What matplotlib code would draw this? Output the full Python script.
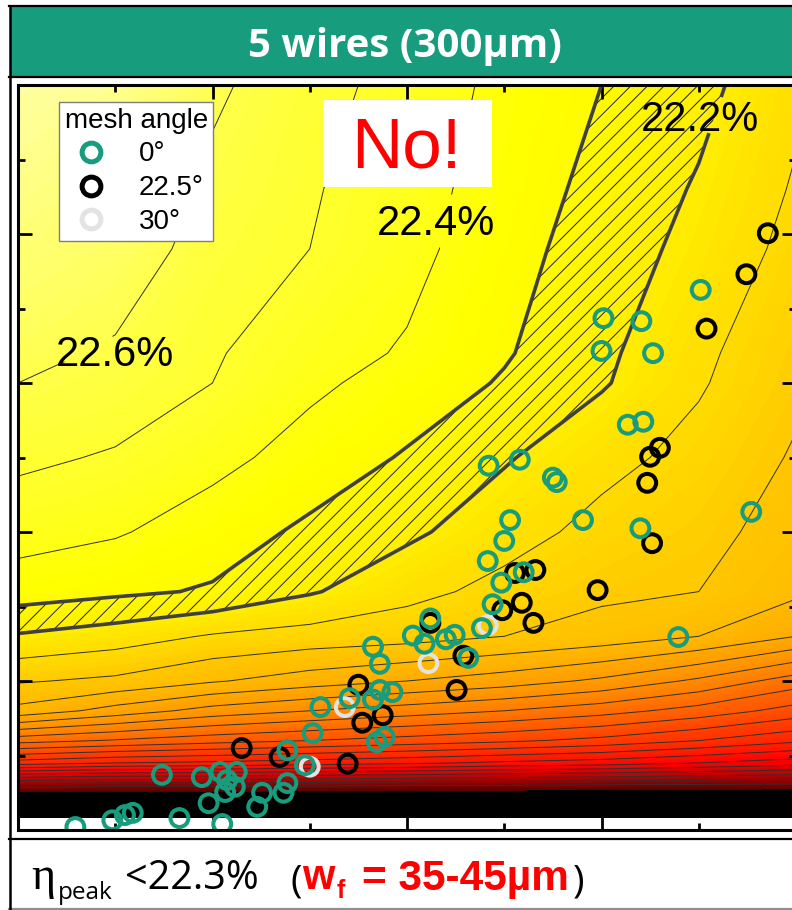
import matplotlib
matplotlib.use('Agg')
import numpy as np
import matplotlib.pyplot as plt
from matplotlib.colors import LinearSegmentedColormap
from matplotlib.lines import Line2D
from matplotlib.patches import Rectangle

plt.rcParams['font.family'] = ['Liberation Sans', 'DejaVu Sans']
plt.rcParams['hatch.color'] = '#202020'
plt.rcParams['hatch.linewidth'] = 0.7

# Simulated peak efficiency (%) on a coarse grid: rows follow grid_y, columns grid_x
grid_x = [0, 1, 2, 3, 4, 5, 6, 7, 8]
grid_y = [0.17, 0.6, 0.9, 1.2, 1.6, 2.0, 2.6, 3.2, 4.0, 5.0, 6.0, 6.4, 7.8, 8.6, 10.0]
eta = [
    [19.60, 19.60, 19.60, 19.60, 19.60, 19.60, 19.60, 19.60, 19.60],
    [20.35, 20.33, 20.33, 20.32, 20.31, 20.30, 20.29, 20.28, 20.27],
    [21.05, 21.00, 20.98, 20.95, 20.92, 20.88, 20.85, 20.80, 20.75],
    [21.44, 21.39, 21.34, 21.30, 21.26, 21.22, 21.17, 21.10, 21.02],
    [21.87, 21.76, 21.66, 21.60, 21.55, 21.50, 21.44, 21.36, 21.26],
    [22.01, 21.98, 21.91, 21.85, 21.80, 21.75, 21.68, 21.58, 21.45],
    [22.19, 22.15, 22.09, 22.06, 22.04, 22.00, 21.96, 21.90, 21.80],
    [22.35, 22.32, 22.29, 22.21, 22.13, 22.07, 22.02, 22.00, 21.92],
    [22.44, 22.41, 22.35, 22.28, 22.22, 22.14, 22.07, 22.03, 21.96],
    [22.52, 22.49, 22.43, 22.36, 22.29, 22.21, 22.13, 22.07, 21.99],
    [22.60, 22.56, 22.50, 22.42, 22.36, 22.29, 22.21, 22.11, 22.02],
    [22.63, 22.585, 22.51, 22.44, 22.39, 22.31, 22.22, 22.12, 22.03],
    [22.72, 22.67, 22.55, 22.50, 22.43, 22.34, 22.25, 22.17, 22.07],
    [22.77, 22.72, 22.575, 22.51, 22.44, 22.355, 22.27, 22.19, 22.09],
    [22.85, 22.80, 22.62, 22.53, 22.47, 22.37, 22.30, 22.23, 22.12],
]
band_levels = [22.2, 22.3]
label_levels = [22.4, 22.6]

# Measured cells, one list pair per mesh angle
x_0 = [0.59, 0.97, 1.10, 1.18, 1.66, 2.10, 1.48, 1.89, 2.08, 2.15, 1.96, 2.13,
       2.25, 2.23, 2.51, 2.46, 2.73, 2.77, 2.77, 2.95, 3.03, 3.11, 3.41, 3.65,
       3.72, 3.72, 3.85, 3.65, 3.77, 3.69, 4.06, 4.18, 4.24, 4.40, 4.49, 4.77,
       4.63, 4.88, 4.97, 4.83, 5.00, 5.06, 5.20, 4.84, 5.16, 5.50, 5.54, 5.81,
       6.40, 6.27, 6.43, 7.54, 6.79, 6.02, 6.41, 6.00, 6.53, 7.02]
y_0 = [0.04, 0.13, 0.20, 0.23, 0.16, 0.08, 0.74, 0.71, 0.78, 0.67, 0.36, 0.51,
       0.78, 0.58, 0.50, 0.31, 0.50, 0.63, 1.07, 0.87, 1.30, 1.65, 1.77, 2.46,
       2.23, 1.88, 1.85, 1.75, 1.25, 1.18, 2.61, 2.50, 2.84, 2.56, 2.62, 2.71,
       2.31, 3.03, 3.32, 3.61, 3.88, 4.16, 3.46, 4.89, 4.97, 4.73, 4.67, 4.16,
       4.05, 5.44, 5.48, 4.27, 2.59, 6.87, 6.83, 6.43, 6.40, 7.25]
x_225 = [2.30, 2.69, 3.39, 3.50, 3.75, 3.54, 4.24, 4.58, 4.51, 5.32, 5.11, 5.18,
         4.98, 5.30, 5.96, 6.52, 6.47, 6.50, 6.60, 7.08, 7.49, 7.71]
y_225 = [1.10, 0.98, 0.89, 1.95, 1.54, 1.44, 2.78, 2.34, 1.88, 3.49, 3.45, 3.05,
         2.95, 2.78, 3.22, 3.85, 4.66, 5.01, 5.13, 6.73, 7.46, 8.01]
x_30 = [3.36, 3.00, 4.22, 4.83]
y_30 = [1.65, 0.85, 2.24, 2.75]

angle_labels = ['0°', '22.5°', '30°']
angle_colors = ['#179c7d', '#000000', '#e3e3e3']

W, H = 792, 910
fig = plt.figure(figsize=(W / 100, H / 100), dpi=100)


def fx(px):
    return px / W


def fy(py):
    return 1 - py / H


# Table frame: header band, plot cell, caption cell
fig.add_artist(Rectangle((fx(11), fy(76)), fx(800) - fx(11), fy(7) - fy(76),
                         transform=fig.transFigure, facecolor='#179c7d',
                         edgecolor='none'))
for yy, col in [(6, 'black'), (77, 'black'), (839, 'black'), (909, '#909090')]:
    fig.add_artist(Line2D([fx(9), fx(800)], [fy(yy), fy(yy)],
                          transform=fig.transFigure, color=col, lw=1.6))
fig.add_artist(Line2D([fx(9.5), fx(9.5)], [fy(6), fy(909)],
                      transform=fig.transFigure, color='black', lw=1.8))
fig.text(fx(405), fy(46), '5 wires (300µm)', ha='center', va='center',
         color='white', fontsize=29, family='Open Sans', weight='bold')

ax = fig.add_axes([fx(18), fy(830), (796 - 18) / W, (830 - 85) / H])
ax.set_xlim(0, 8)
ax.set_ylim(0, 10)

X, Y = np.meshgrid(grid_x, grid_y)
Z = np.array(eta)

anchors = [(20.2, '#5a0000'), (20.5, '#b80000'), (20.8, '#ff0000'),
           (21.2, '#ff4000'), (21.6, '#ff8c00'), (22.0, '#ffc800'),
           (22.2, '#ffee00'), (22.35, '#ffff00'), (22.6, '#ffff4a'),
           (22.9, '#ffffb0')]
lo, hi = anchors[0][0], anchors[-1][0]
cmap = LinearSegmentedColormap.from_list(
    'eff', [((v - lo) / (hi - lo), c) for v, c in anchors])
cmap.set_under('black')

fill = ax.contourf(X, Y, Z, levels=np.linspace(lo, hi, 136), cmap=cmap,
                   extend='min', zorder=0)
fill.set_edgecolor('face')
fill.set_linewidth(0.3)

thin_levels = [lv for lv in np.round(np.arange(20.3, 22.65, 0.1), 1)
               if not np.isclose(lv, band_levels + label_levels).any()]
ax.contour(X, Y, Z, levels=thin_levels, colors='#303030', linewidths=0.7,
           zorder=1)
named = ax.contour(X, Y, Z, levels=label_levels, colors='#303030',
                   linewidths=0.7, zorder=1)
ax.contourf(X, Y, Z, levels=band_levels, colors='none', hatches=['//'],
            zorder=1)
thick = ax.contour(X, Y, Z, levels=band_levels, colors='#404040',
                   linewidths=2.6, zorder=2)


def pct(v):
    return f'{v:.1f}%'


t1 = ax.clabel(named, fmt=pct, inline=True, inline_spacing=-32, fontsize=30,
               colors='black', manual=[(4.34, 8.19), (0.74, 6.42)])
t2 = ax.clabel(thick, fmt=pct, inline=True, inline_spacing=-40, fontsize=30,
               colors='black', manual=[(7.16, 9.6)])
spots = {'22.6%': (1.00, 6.38), '22.4%': (4.30, 8.13), '22.2%': (7.01, 9.53)}
for t in list(t1) + list(t2):
    t.set_rotation(0)
    t.set_position(spots.get(t.get_text(), t.get_position()))
    t.set_zorder(4)

for xs, ys, col in [(x_30, y_30, angle_colors[2]),
                    (x_225, y_225, angle_colors[1]),
                    (x_0, y_0, angle_colors[0])]:
    ax.scatter(xs, ys, s=165, facecolors='none', edgecolors=col,
               linewidths=2.9, zorder=3)

ax.add_patch(Rectangle((0.392, 0.863), 0.217, 0.117, transform=ax.transAxes,
                       facecolor='white', edgecolor='none', zorder=5))
ax.text(0.4987, 0.8886, 'No!', transform=ax.transAxes, ha='center',
        va='baseline', color='#ff0000', fontsize=51, zorder=6)

handles = [Line2D([], [], ls='none', marker='o', ms=13.5, mfc='none',
                  mec=c, mew=3.6) for c in angle_colors]
leg = ax.legend(handles, angle_labels, title='mesh angle', loc='upper left',
                bbox_to_anchor=(0.0527, 0.977), borderaxespad=0, fontsize=20,
                title_fontsize=20, fancybox=False, edgecolor='#7f7f7f',
                framealpha=1, handletextpad=0.9, labelspacing=0.28,
                borderpad=0.2, handlelength=1.6)
leg.get_frame().set_linewidth(1.0)
leg.set_zorder(7)

ax.set_xticks([0, 2, 4, 6, 8])
ax.set_xticks([1, 3, 5, 7], minor=True)
ax.set_yticks([0, 2, 4, 6, 8, 10])
ax.set_yticks([1, 3, 5, 7, 9], minor=True)
ax.tick_params(which='both', direction='in', top=True, right=True,
               labelbottom=False, labelleft=False, width=2, zorder=8)
ax.tick_params(which='major', length=10)
ax.tick_params(which='minor', length=5)
for sp in ax.spines.values():
    sp.set_linewidth(2.2)
    sp.set_zorder(8)

# Caption cell
fig.text(fx(31), fy(889), 'η', family='Liberation Serif', fontsize=33,
         va='baseline')
fig.text(fx(58), fy(899), 'peak', family='Open Sans', fontsize=17.5,
         va='baseline')
fig.text(fx(125), fy(889), '<22.3%', family='Open Sans', fontsize=28.5,
         va='baseline')
fig.text(fx(290), fy(892), '(', family='Open Sans', fontsize=28,
         va='baseline')
fig.text(fx(302), fy(889), 'w', color='#ff0000', weight='bold', fontsize=30,
         va='baseline')
fig.text(fx(337), fy(898), 'f', color='#ff0000', weight='bold', fontsize=18,
         va='baseline')
fig.text(fx(362), fy(890), '= 35-45µm', color='#ff0000', weight='bold',
         fontsize=30.5, va='baseline')
fig.text(fx(573), fy(892), ')', family='Open Sans', fontsize=28,
         va='baseline')

fig.savefig('out.png', dpi=100)
